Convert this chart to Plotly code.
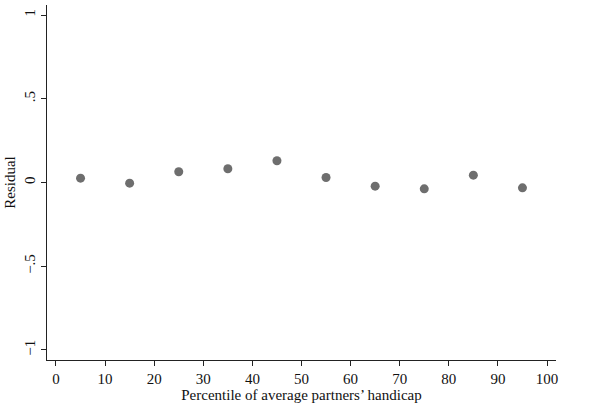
import plotly.graph_objects as go

percentile = [5, 15, 25, 35, 45, 55, 65, 75, 85, 95]
residual = [0.026, -0.004, 0.064, 0.082, 0.130, 0.030, -0.022, -0.038, 0.044, -0.032]

x_ticks = [0, 10, 20, 30, 40, 50, 60, 70, 80, 90, 100]
y_ticks = [-1, -0.5, 0, 0.5, 1]
y_ticklabels = ["\u22121", "\u2212.5", "0", ".5", "1"]

font = "Liberation Serif, Times New Roman, serif"

fig = go.Figure(go.Scatter(
    x=percentile, y=residual, mode="markers",
    marker=dict(size=9, color="#6e6e6e", line=dict(width=0)),
    showlegend=False,
))

fig.update_layout(
    width=602, height=407,
    margin=dict(l=47, r=46, t=5, b=47),
    paper_bgcolor="white", plot_bgcolor="white",
    font=dict(family=font, size=15, color="#111111"),
)
fig.update_xaxes(
    range=[-1.83, 101.83], tickvals=x_ticks, ticks="outside", ticklen=5,
    tickcolor="#222", showline=True, linecolor="#222", linewidth=1,
    showgrid=False, zeroline=False, automargin=False,
    title=dict(text="Percentile of average partners\u2019 handicap", standoff=0,
               font=dict(size=15)),
)
fig.update_yaxes(
    range=[-1.06, 1.06], tickvals=y_ticks, ticktext=y_ticklabels,
    ticks="outside", ticklen=5, tickangle=-90,
    tickcolor="#222", showline=True, linecolor="#222", linewidth=1,
    showgrid=False, zeroline=False, automargin=False,
    title=dict(text="Residual", standoff=2, font=dict(size=15)),
)

fig.write_html("out.html", config={"displayModeBar": False},
               post_script="document.body.style.margin='0';")
